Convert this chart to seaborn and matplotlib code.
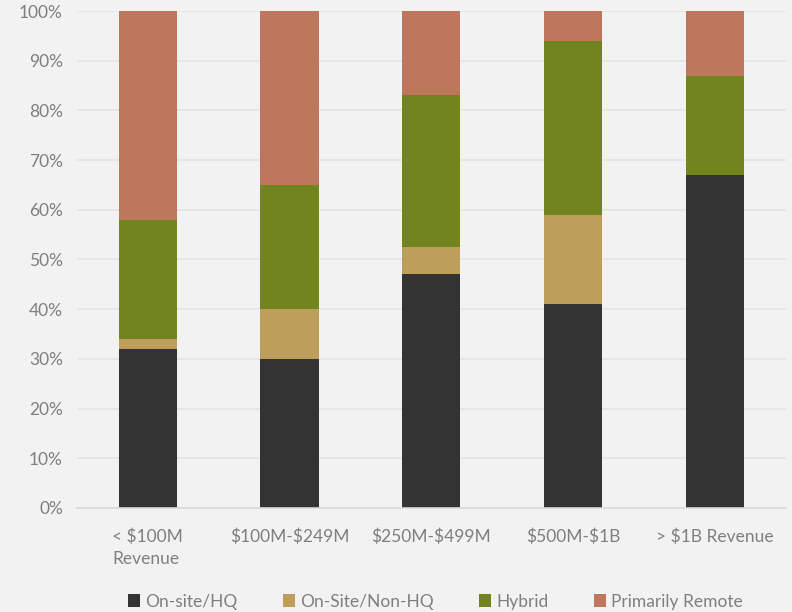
import matplotlib
matplotlib.use("Agg")
import matplotlib.pyplot as plt
from matplotlib.patches import Patch
import pandas as pd
import seaborn as sns

categories = ["< $100M\nRevenue", "$100M-$249M", "$250M-$499M", "$500M-$1B", "> $1B Revenue"]
onsite_hq = [32, 30, 47, 41, 67]
onsite_non_hq = [2, 10, 5.5, 18, 0]
hybrid = [24, 25, 30.5, 35, 20]
primarily_remote = [42, 35, 17, 6, 13]

series_names = ["On-site/HQ", "On-Site/Non-HQ", "Hybrid", "Primarily Remote"]
colors = ["#333333", "#BD9E5A", "#72841E", "#BE775C"]
bg = "#F2F2F2"
text_color = "#7F7F7F"

df = pd.DataFrame({
    "category": categories,
    "On-site/HQ": onsite_hq,
    "On-Site/Non-HQ": onsite_non_hq,
    "Hybrid": hybrid,
    "Primarily Remote": primarily_remote,
})
# cumulative tops for stacking
cum = df[series_names].cumsum(axis=1)

sns.set_theme(style="white")
plt.rcParams["font.family"] = ["Lato", "DejaVu Sans"]
plt.rcParams["text.parse_math"] = False

fig = plt.figure(figsize=(7.92, 6.12), dpi=100, facecolor=bg)
ax = fig.add_axes([0.097, 0.170, 0.895, 0.812])
ax.set_facecolor(bg)

# draw tallest cumulative layer first so lower segments sit on top
for name, color in reversed(list(zip(series_names, colors))):
    sns.barplot(x=df["category"], y=cum[name], color=color, width=0.41,
                saturation=1, linewidth=0, edgecolor="none", ax=ax, zorder=3)

ax.set_ylim(0, 100)
ax.set_xlim(-0.5, len(categories) - 0.5)
ax.set_yticks(range(0, 101, 10))
ax.set_yticklabels([f"{v}%" for v in range(0, 101, 10)])
ax.yaxis.grid(True, color="#E4E4E4", linewidth=1.2, zorder=0)
ax.xaxis.grid(False)
ax.set_xlabel("")
ax.set_ylabel("")
for side in ["top", "right", "left"]:
    ax.spines[side].set_visible(False)
ax.spines["bottom"].set_color("#D9D9D9")
ax.spines["bottom"].set_linewidth(1.2)
ax.spines["bottom"].set_zorder(4)
ax.tick_params(axis="both", length=0, colors=text_color, labelsize=12.5)
ax.tick_params(axis="x", pad=15)
ax.tick_params(axis="y", pad=10)
for lbl in ax.get_xticklabels():
    lbl.set_multialignment("left")
    lbl.set_linespacing(1.45)

handles = [Patch(facecolor=c, edgecolor="none", label=n) for n, c in zip(series_names, colors)]
fig.legend(handles=handles, loc="center", bbox_to_anchor=(0.55, 0.017), ncol=4,
           frameon=False, fontsize=12.5, labelcolor=text_color, handlelength=0.7,
           handleheight=0.7, handletextpad=0.3, columnspacing=2.6)

fig.savefig("out.png", dpi=100, facecolor=bg)
